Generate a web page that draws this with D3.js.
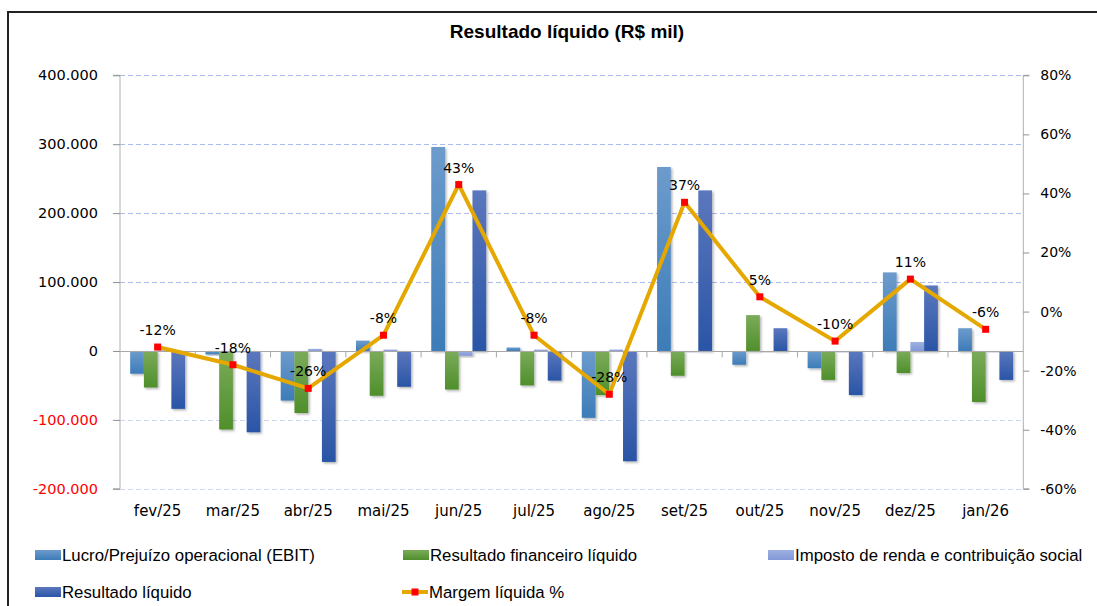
<!DOCTYPE html>
<html><head><meta charset="utf-8">
<script src="https://cdn.jsdelivr.net/npm/d3@7"></script>
<style>body{margin:0;background:#fff}svg{display:block}</style>
</head><body>
<svg id="c" width="1097" height="606"></svg>
<script>
const categories = ["fev/25","mar/25","abr/25","mai/25","jun/25","jul/25","ago/25","set/25","out/25","nov/25","dez/25","jan/26"];
const ebit    = [-33000, -5000, -72000, 15000, 296000, 5000, -97000, 267000, -20000, -25000, 114000, 33000];
const financeiro = [-53000, -114000, -90000, -65000, -56000, -50000, -64000, -36000, 52000, -42000, -32000, -74000];
const imposto = [1000, 0, 3000, 2000, -7000, 2000, 2000, -1000, 0, 0, 13000, 0];
const liquido = [-84000, -118000, -161000, -52000, 233000, -43000, -160000, 233000, 33000, -64000, 95000, -42000];
const margem  = [-12, -18, -26, -8, 43, -8, -28, 37, 5, -10, 11, -6];
const leftTicks = [400000, 300000, 200000, 100000, 0, -100000, -200000];
const rightTicks = [80, 60, 40, 20, 0, -20, -40, -60];
const seriesNames = ["Lucro/Prejuízo operacional (EBIT)", "Resultado financeiro líquido", "Imposto de renda e contribuição social", "Resultado líquido", "Margem líquida %"];

const svg = d3.select("#c");
const L = 120, R = 1023.3, T = 75.3, B = 488.8;
const fontNum = "'DejaVu Sans', Verdana, sans-serif";
const fontTxt = "'Liberation Sans', Arial, sans-serif";

// border
svg.append("rect").attr("x", 8).attr("y", 12).attr("width", 1100).attr("height", 610)
  .attr("fill", "#fff").attr("stroke", "#222").attr("stroke-width", 2);

// title
svg.append("text").attr("x", 567).attr("y", 38).attr("text-anchor", "middle")
  .attr("font-family", fontTxt).attr("font-weight", "bold").attr("font-size", 19)
  .attr("fill", "#000").text("Resultado líquido (R$ mil)");

const y = d3.scaleLinear().domain([-200000, 400000]).range([B, T]);
const y2 = d3.scaleLinear().domain([-60, 80]).range([B, T]);
const x0 = d3.scaleBand().domain(categories).range([L, R]).paddingInner(0.27).paddingOuter(0.135);
const keys = ["ebit", "fin", "ir", "liq"];
const x1 = d3.scaleBand().domain(keys).range([0, x0.bandwidth()]);

// gradients
const defs = svg.append("defs");
const grads = {ebit: ["#6d9bcc", "#3c7cb8"], fin: ["#7bab5a", "#4f8f2b"], ir: ["#9db1e3", "#8298d6"], liq: ["#5b77bd", "#2a55a6"]};
Object.entries(grads).forEach(([k, c]) => {
  const g = defs.append("linearGradient").attr("id", "g_" + k).attr("x1", 0).attr("y1", 0).attr("x2", 0).attr("y2", 1);
  g.append("stop").attr("offset", "0%").attr("stop-color", c[0]);
  g.append("stop").attr("offset", "100%").attr("stop-color", c[1]);
});
const f = defs.append("filter").attr("id", "sh").attr("x", "-20%").attr("y", "-20%").attr("width", "150%").attr("height", "150%");
f.append("feDropShadow").attr("dx", 1.5).attr("dy", 1.5).attr("stdDeviation", 1).attr("flood-color", "#000").attr("flood-opacity", 0.3);

// gridlines
svg.append("g").selectAll("line").data(leftTicks.filter(d => d !== 0)).join("line")
  .attr("x1", L).attr("x2", R).attr("y1", d => Math.round(y(d)) + 0.5).attr("y2", d => Math.round(y(d)) + 0.5)
  .attr("stroke", d => d > 0 ? "#a9bcf0" : "#cdd6f2").attr("stroke-dasharray", "5,3").attr("stroke-width", 1);

// axes
const axL = d3.axisLeft(y).tickValues(leftTicks).tickSize(7).tickPadding(15)
  .tickFormat(d => d3.format(",")(d).replace(/,/g, ".").replace("−", "-"));
const gL = svg.append("g").attr("transform", `translate(${L},0)`).call(axL);
gL.select(".domain").attr("stroke", "#b0b0b0").attr("d", `M-7,${T}H0V${B}H-7`);
gL.selectAll(".tick line").attr("stroke", "#909090");
gL.selectAll(".tick text").attr("font-family", fontNum).attr("font-size", 14.5)
  .attr("fill", d => d < 0 ? "#ff0000" : "#000");

const axR = d3.axisRight(y2).tickValues(rightTicks).tickSize(6).tickPadding(11).tickFormat(d => d + "%");
const gR = svg.append("g").attr("transform", `translate(${R},0)`).call(axR);
gR.select(".domain").attr("stroke", "#b0b0b0").attr("d", `M6,${T}H0V${B}H6`);
gR.selectAll(".tick line").attr("stroke", "#909090");
gR.selectAll(".tick text").attr("font-family", fontNum).attr("font-size", 14).attr("fill", "#000");

// bars
const data = categories.map((c, i) => ({c, v: {ebit: ebit[i], fin: financeiro[i], ir: imposto[i], liq: liquido[i]}}));
const gb = svg.append("g");
data.forEach(d => {
  keys.forEach(k => {
    const v = d.v[k];
    const yy = Math.min(y(v), y(0)), h = Math.abs(y(v) - y(0));
    gb.append("rect").attr("x", x0(d.c) + x1(k)).attr("width", x1.bandwidth())
      .attr("y", yy).attr("height", Math.max(h, 1.2))
      .attr("fill", `url(#g_${k})`).attr("filter", "url(#sh)");
  });
});

// category axis (zero line)
const y0 = Math.round(y(0)) + 0.5;
const gx = svg.append("g");
gx.append("line").attr("x1", L).attr("x2", R).attr("y1", y0).attr("y2", y0).attr("stroke", "#a8a8a8").attr("stroke-width", 1.2);
const step = x0.step();
gx.selectAll("line.t").data(d3.range(1, categories.length)).join("line").attr("class", "t")
  .attr("x1", i => L + i * step).attr("x2", i => L + i * step).attr("y1", y0).attr("y2", y0 + 6).attr("stroke", "#a8a8a8");
gx.selectAll("text").data(categories).join("text")
  .attr("x", c => x0(c) + x0.bandwidth() / 2).attr("y", 516).attr("text-anchor", "middle")
  .attr("font-family", fontNum).attr("font-size", 15).attr("fill", "#000").text(c => c);

// line
const cx = i => x0(categories[i]) + x0.bandwidth() / 2;
const line = d3.line().x((d, i) => cx(i)).y(d => y2(d));
svg.append("path").datum(margem).attr("d", line).attr("fill", "none").attr("stroke", "#e5a800").attr("stroke-width", 4).attr("stroke-linejoin", "miter");
svg.append("g").selectAll("rect").data(margem).join("rect")
  .attr("x", (d, i) => cx(i) - 3.5).attr("y", d => y2(d) - 3.5).attr("width", 7).attr("height", 7).attr("fill", "#ff0000");
svg.append("g").selectAll("text").data(margem).join("text")
  .attr("x", (d, i) => cx(i)).attr("y", d => y2(d) - 12).attr("text-anchor", "middle")
  .attr("font-family", fontNum).attr("font-size", 14).attr("fill", "#000").text(d => d + "%");

// legend
const leg = [
  {x: 35, y: 555, t: seriesNames[0], k: "ebit"},
  {x: 403, y: 555, t: seriesNames[1], k: "fin"},
  {x: 768, y: 555, t: seriesNames[2], k: "ir"},
  {x: 35, y: 592, t: seriesNames[3], k: "liq"},
  {x: 402, y: 592, t: seriesNames[4], k: "line"}
];
const gl = svg.append("g");
leg.forEach(d => {
  if (d.k === "line") {
    gl.append("line").attr("x1", d.x).attr("x2", d.x + 26).attr("y1", d.y).attr("y2", d.y).attr("stroke", "#e5a800").attr("stroke-width", 4);
    gl.append("rect").attr("x", d.x + 9.5).attr("y", d.y - 3.5).attr("width", 7).attr("height", 7).attr("fill", "#ff0000");
  } else {
    gl.append("rect").attr("x", d.x).attr("y", d.y - 5).attr("width", 26).attr("height", 10).attr("fill", `url(#g_${d.k})`);
  }
  gl.append("text").attr("x", d.x + 27).attr("y", d.y + 5.5).attr("font-family", fontTxt).attr("font-size", 16.8)
    .attr("fill", "#000").text(d.t);
});
</script>
</body></html>
